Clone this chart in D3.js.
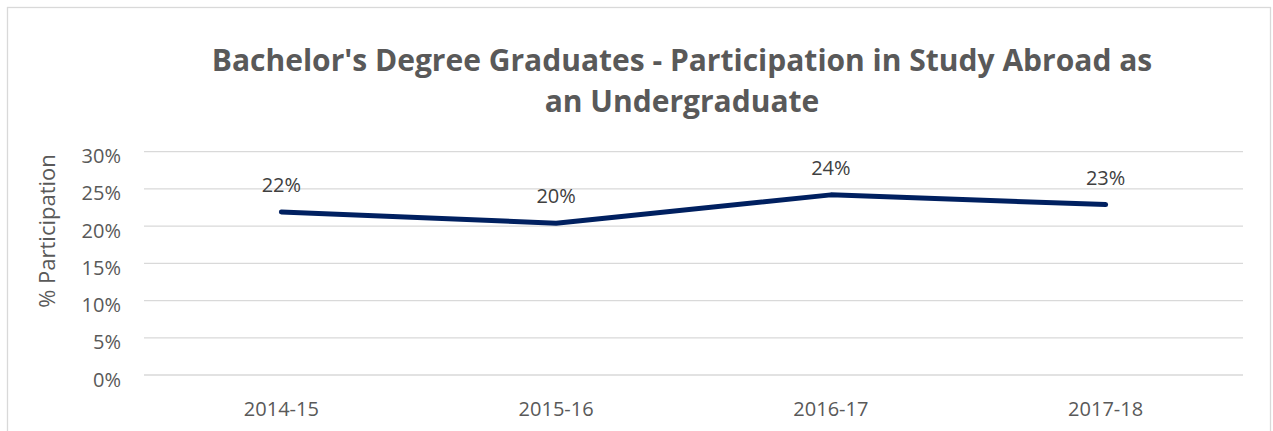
<!DOCTYPE html>
<html>
<head>
<meta charset="utf-8">
<script src="https://cdn.jsdelivr.net/npm/d3@7"></script>
<style>
  body { margin: 0; background: #fff; }
  text { font-family: "Open Sans", "Noto Sans", sans-serif; }
</style>
</head>
<body>
<div id="chart"></div>
<script>
var years = ["2014-15", "2015-16", "2016-17", "2017-18"];
var participation = [0.219, 0.204, 0.242, 0.229];
var yTicks = [0, 0.05, 0.10, 0.15, 0.20, 0.25, 0.30];
var titleLines = ["Bachelor's Degree Graduates - Participation in Study Abroad as", "an Undergraduate"];

var W = 1273, H = 431;
var margin = {top: 151.7, right: 30, bottom: 56, left: 144};

var svg = d3.select("#chart")
  .append("svg")
    .attr("width", W)
    .attr("height", H);

// outer chart border
svg.append("rect")
  .attr("x", 7.5).attr("y", 7.5)
  .attr("width", 1263).attr("height", 440)
  .attr("fill", "#fff")
  .attr("stroke", "#d9d9d9")
  .attr("stroke-width", 1.3);

var x = d3.scaleBand()
  .domain(years)
  .range([margin.left, 1243])
  .padding(0);

var y = d3.scaleLinear()
  .domain([0, 0.3])
  .range([375, margin.top]);

// gridlines
svg.append("g")
  .selectAll("line")
  .data(yTicks)
  .enter()
  .append("line")
    .attr("x1", margin.left)
    .attr("x2", 1243)
    .attr("y1", function(d) { return y(d) })
    .attr("y2", function(d) { return y(d) })
    .attr("stroke", "#d9d9d9")
    .attr("stroke-width", 1.3);

// y tick labels
svg.append("g")
  .selectAll("text")
  .data(yTicks)
  .enter()
  .append("text")
    .attr("x", 121)
    .attr("y", function(d) { return y(d) + 11.5 })
    .attr("text-anchor", "end")
    .attr("fill", "#595959")
    .style("font-size", "20px")
    .text(function(d) { return d3.format(".0%")(d) });

// x labels
svg.append("g")
  .selectAll("text")
  .data(years)
  .enter()
  .append("text")
    .attr("x", function(d) { return x(d) + x.bandwidth() / 2 })
    .attr("y", 416)
    .attr("text-anchor", "middle")
    .attr("fill", "#595959")
    .style("font-size", "20px")
    .text(function(d) { return d });

// axis title
svg.append("text")
  .attr("transform", "translate(55,231) rotate(-90)")
  .attr("text-anchor", "middle")
  .attr("fill", "#595959")
  .style("font-size", "22px")
  .text("% Participation");

// title
svg.append("g")
  .selectAll("text")
  .data(titleLines)
  .enter()
  .append("text")
    .attr("x", 682)
    .attr("y", function(d, i) { return 70.7 + i * 41.3 })
    .attr("text-anchor", "middle")
    .attr("fill", "#595959")
    .style("font-size", "30px")
    .style("font-weight", "bold")
    .text(function(d) { return d });

// the line
var pts = years.map(function(d, i) { return {year: d, value: participation[i]} });

svg.append("path")
  .datum(pts)
  .attr("d", d3.line()
    .x(function(d) { return x(d.year) + x.bandwidth() / 2 })
    .y(function(d) { return y(d.value) })
  )
  .attr("fill", "none")
  .attr("stroke", "#002060")
  .attr("stroke-width", 5)
  .attr("stroke-linecap", "round")
  .attr("stroke-linejoin", "round");

// data labels
svg.append("g")
  .selectAll("text")
  .data(pts)
  .enter()
  .append("text")
    .attr("x", function(d) { return x(d.year) + x.bandwidth() / 2 })
    .attr("y", function(d) { return y(d.value) - 20 })
    .attr("text-anchor", "middle")
    .attr("fill", "#404040")
    .style("font-size", "20px")
    .text(function(d) { return d3.format(".0%")(d.value) });
</script>
</body>
</html>
